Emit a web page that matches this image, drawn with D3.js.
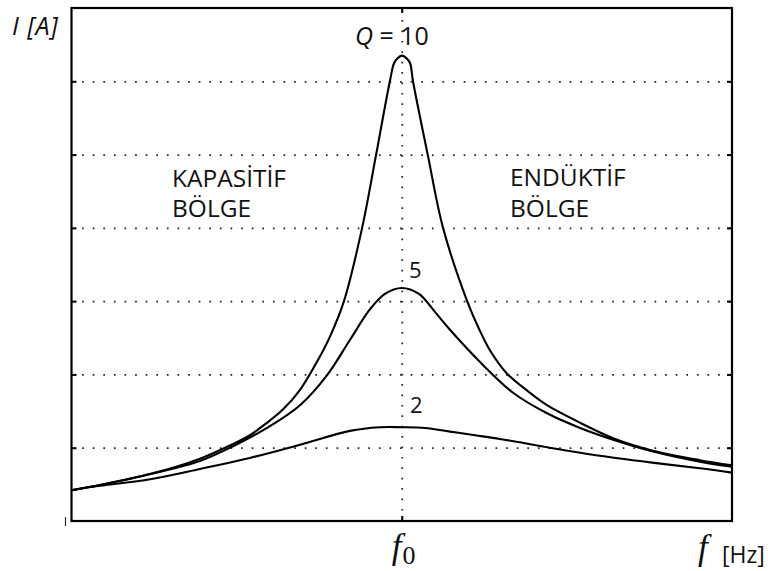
<!DOCTYPE html>
<html>
<head>
<meta charset="utf-8">
<script src="https://cdn.jsdelivr.net/npm/d3@7"></script>
<style>
  body { margin: 0; background: #fff; }
  svg { display: block; }
  .label { font-family: "Open Sans", sans-serif; fill: #111; }
  .math { font-family: "Liberation Serif", "DejaVu Serif", serif; fill: #111; }
</style>
</head>
<body>
<div id="chart"></div>
<script>
// values: x = f / f0 (0..2), y = current in grid units
var q10Points = [
    [0, 0.42], [0.086, 0.49], [0.238, 0.64], [0.389, 0.85], [0.489, 1.05],
    [0.54, 1.17], [0.592, 1.34], [0.64, 1.52], [0.692, 1.79], [0.743, 2.17],
    [0.783, 2.52], [0.825, 3.0], [0.88, 4.0], [0.922, 4.99], [0.964, 6.0],
    [0.977, 6.25], [0.989, 6.32], [1.0, 6.35], [1.013, 6.32], [1.025, 6.25],
    [1.034, 6.0], [1.079, 4.99], [1.125, 4.0], [1.198, 3.0], [1.231, 2.65],
    [1.267, 2.33], [1.319, 2.01], [1.388, 1.75], [1.44, 1.58], [1.54, 1.34],
    [1.64, 1.13], [1.752, 0.97], [1.903, 0.83], [2.0, 0.76]
];
var q5Points = [
    [0, 0.42], [0.086, 0.49], [0.238, 0.64], [0.389, 0.82], [0.489, 1.02],
    [0.592, 1.27], [0.692, 1.58], [0.774, 1.99], [0.843, 2.47], [0.904, 2.89],
    [0.949, 3.1], [1.0, 3.18], [1.052, 3.1], [1.101, 2.85], [1.146, 2.61],
    [1.237, 2.17], [1.337, 1.75], [1.44, 1.47], [1.54, 1.27], [1.64, 1.11],
    [1.752, 0.96], [1.903, 0.81], [2.0, 0.74]
];
var q2Points = [
    [0, 0.42], [0.086, 0.48], [0.238, 0.57], [0.389, 0.71], [0.54, 0.86],
    [0.692, 1.04], [0.843, 1.23], [0.934, 1.28], [1.0, 1.28], [1.07, 1.27],
    [1.146, 1.22], [1.222, 1.17], [1.297, 1.12], [1.373, 1.06], [1.449, 1.0],
    [1.6, 0.89], [1.752, 0.8], [1.903, 0.72], [2.0, 0.66]
];
var gridValues = [1, 2, 3, 4, 5, 6];
var f0 = 1;

var totalWidth = 770,
    totalHeight = 571,
    mTop = 8,
    mRight = 38,
    mBottom = 50,
    mLeft = 71.5;

var width = totalWidth - mLeft - mRight,
    height = totalHeight - mTop - mBottom;

var xScale = d3.scaleLinear().domain([0, 2]).range([0, width]);
var yScale = d3.scaleLinear().domain([0, 7]).range([height, 0]);

var svg = d3.select("#chart").append("svg")
    .attr("width", totalWidth)
    .attr("height", totalHeight);

var g = svg.append("g")
    .attr("transform", "translate(" + mLeft + "," + mTop + ")");

// dotted grid
var yGrid = d3.axisLeft(yScale).tickValues(gridValues).tickSize(-width).tickFormat("");
g.append("g").call(yGrid)
    .call(function(s) { s.select(".domain").remove(); })
    .selectAll("line")
    .attr("stroke", "#222")
    .attr("stroke-width", 1.7)
    .attr("stroke-dasharray", "1.7,8.9");

var xGrid = d3.axisBottom(xScale).tickValues([f0]).tickSize(-height).tickFormat("");
g.append("g").attr("transform", "translate(0," + height + ")").call(xGrid)
    .call(function(s) { s.select(".domain").remove(); })
    .selectAll("line")
    .attr("stroke", "#222")
    .attr("stroke-width", 1.7)
    .attr("stroke-dasharray", "1.7,8.7");

// short solid ticks inside the frame
var tickLen = 5;
g.append("g").call(d3.axisRight(yScale).tickValues(gridValues).tickSize(tickLen).tickFormat(""))
    .call(function(s) { s.select(".domain").remove(); })
    .selectAll("line").attr("stroke", "#000").attr("stroke-width", 2);
g.append("g").attr("transform", "translate(" + width + ",0)")
    .call(d3.axisLeft(yScale).tickValues(gridValues).tickSize(tickLen).tickFormat(""))
    .call(function(s) { s.select(".domain").remove(); })
    .selectAll("line").attr("stroke", "#000").attr("stroke-width", 2);
g.append("g").call(d3.axisBottom(xScale).tickValues([f0]).tickSize(tickLen).tickFormat(""))
    .call(function(s) { s.select(".domain").remove(); })
    .selectAll("line").attr("stroke", "#000").attr("stroke-width", 2);
g.append("g").attr("transform", "translate(0," + height + ")")
    .call(d3.axisTop(xScale).tickValues([f0]).tickSize(tickLen).tickFormat(""))
    .call(function(s) { s.select(".domain").remove(); })
    .selectAll("line").attr("stroke", "#000").attr("stroke-width", 2);

// frame
g.append("rect")
    .attr("x", 0).attr("y", 0)
    .attr("width", width).attr("height", height)
    .attr("fill", "none")
    .attr("stroke", "#000")
    .attr("stroke-width", 2.2);

// little stub left of the origin
g.append("line")
    .attr("x1", -6).attr("x2", -6)
    .attr("y1", height - 4).attr("y2", height + 5)
    .attr("stroke", "#333").attr("stroke-width", 1.2);

// resonance curves
var line = d3.line()
    .x(function(d) { return xScale(d[0]); })
    .y(function(d) { return yScale(d[1]); })
    .curve(d3.curveCatmullRom.alpha(0.5));

[q2Points, q5Points, q10Points].forEach(function(pts) {
    g.append("path")
        .datum(pts)
        .attr("d", line)
        .attr("fill", "none")
        .attr("stroke", "#000")
        .attr("stroke-width", 2.1)
        .attr("stroke-linejoin", "round");
});

// curve labels
var qLabel = svg.append("text").attr("class", "label")
    .attr("x", 355).attr("y", 45).style("font-size", "25px");
qLabel.append("tspan").style("font-style", "italic").text("Q");
qLabel.append("tspan").text(" = 10");

svg.append("text").attr("class", "label")
    .attr("x", 409).attr("y", 278).style("font-size", "22px").text("5");
svg.append("text").attr("class", "label")
    .attr("x", 410).attr("y", 413).style("font-size", "22px").text("2");

// region labels
svg.append("text").attr("class", "label")
    .attr("x", 172).attr("y", 187).style("font-size", "24.5px").text("KAPASİTİF");
svg.append("text").attr("class", "label")
    .attr("x", 172).attr("y", 217).style("font-size", "24.5px").text("BÖLGE");
svg.append("text").attr("class", "label")
    .attr("x", 510).attr("y", 186).style("font-size", "24.5px").text("ENDÜKTİF");
svg.append("text").attr("class", "label")
    .attr("x", 510).attr("y", 217).style("font-size", "24.5px").text("BÖLGE");

// axis titles
svg.append("text").attr("class", "label")
    .attr("x", 12).attr("y", 35)
    .style("font-size", "25px").style("font-style", "italic")
    .style("letter-spacing", "1px")
    .text("I [A]");

var f0Label = svg.append("text").attr("class", "math")
    .attr("x", mLeft + xScale(f0) - 10).attr("y", 558);
f0Label.append("tspan").style("font-size", "35px").style("font-style", "italic").text("f");
f0Label.append("tspan").attr("dy", 6).attr("dx", 1).style("font-size", "26px").text("0");

svg.append("text").attr("class", "math")
    .attr("x", 698).attr("y", 559)
    .style("font-size", "35px").style("font-style", "italic")
    .text("f");
svg.append("text").attr("class", "label")
    .attr("x", 722).attr("y", 563)
    .style("font-size", "23px")
    .text("[Hz]");
</script>
</body>
</html>
